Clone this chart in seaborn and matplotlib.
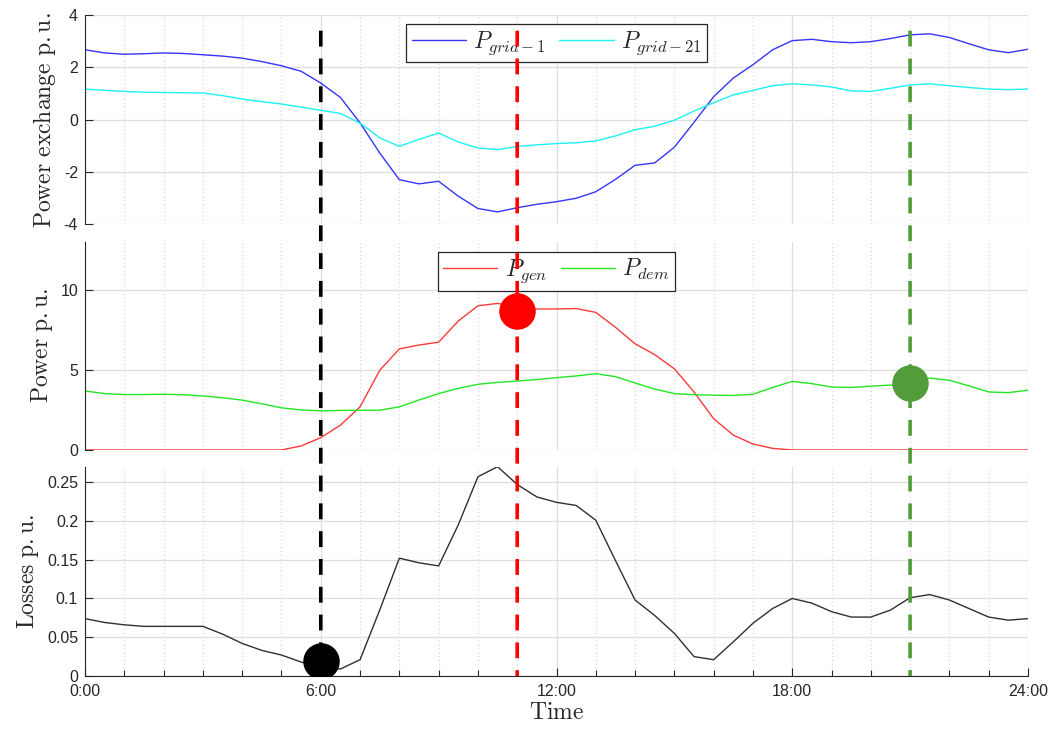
import numpy as np
import matplotlib
matplotlib.use("Agg")
import matplotlib.pyplot as plt
import seaborn as sns
from matplotlib.patches import ConnectionPatch
from matplotlib.ticker import MultipleLocator, FuncFormatter, FixedLocator

# Time axis, every half hour
hours = np.arange(0, 24.5, 0.5)

# Power exchange p.u.
p_grid_1 = [2.67, 2.55, 2.50, 2.52, 2.55, 2.53, 2.48, 2.43, 2.35, 2.22,
            2.06, 1.85, 1.40, 0.85, -0.12, -1.27, -2.29, -2.45, -2.35, -2.92,
            -3.39, -3.52, -3.36, -3.23, -3.13, -3.00, -2.75, -2.28, -1.74, -1.65,
            -1.05, -0.10, 0.88, 1.59, 2.10, 2.67, 3.02, 3.07, 2.98, 2.94,
            2.98, 3.10, 3.24, 3.28, 3.14, 2.90, 2.67, 2.56, 2.69]
p_grid_21 = [1.17, 1.12, 1.08, 1.05, 1.04, 1.03, 1.02, 0.92, 0.79, 0.69,
             0.60, 0.48, 0.36, 0.24, -0.13, -0.69, -1.02, -0.75, -0.51, -0.85,
             -1.08, -1.14, -1.02, -0.96, -0.91, -0.88, -0.81, -0.62, -0.38, -0.25,
             -0.02, 0.33, 0.65, 0.95, 1.12, 1.30, 1.37, 1.33, 1.25, 1.10,
             1.08, 1.20, 1.33, 1.37, 1.30, 1.23, 1.17, 1.15, 1.17]

# Power p.u.
p_gen = [0, 0, 0, 0, 0, 0, 0, 0, 0, 0,
         0, 0.25, 0.77, 1.55, 2.69, 4.97, 6.31, 6.55, 6.73, 8.05,
         9.00, 9.15, 8.90, 8.80, 8.80, 8.83, 8.59, 7.66, 6.63, 5.95,
         5.07, 3.62, 1.95, 0.93, 0.37, 0.10, 0, 0, 0, 0,
         0, 0, 0, 0, 0, 0, 0, 0, 0]
p_dem = [3.68, 3.52, 3.46, 3.46, 3.48, 3.45, 3.37, 3.26, 3.11, 2.88,
         2.63, 2.50, 2.44, 2.47, 2.48, 2.48, 2.69, 3.12, 3.52, 3.85,
         4.10, 4.22, 4.30, 4.40, 4.51, 4.62, 4.76, 4.58, 4.18, 3.80,
         3.52, 3.45, 3.42, 3.40, 3.48, 3.90, 4.28, 4.14, 3.93, 3.90,
         3.98, 4.05, 4.14, 4.49, 4.35, 4.00, 3.62, 3.58, 3.73]

# Losses p.u.
losses = [0.074, 0.069, 0.066, 0.064, 0.064, 0.064, 0.064, 0.054, 0.042, 0.033,
          0.027, 0.018, 0.011, 0.009, 0.021, 0.085, 0.152, 0.146, 0.142, 0.195,
          0.257, 0.270, 0.247, 0.231, 0.224, 0.220, 0.201, 0.149, 0.098, 0.078,
          0.055, 0.025, 0.021, 0.044, 0.068, 0.087, 0.100, 0.094, 0.083, 0.076,
          0.076, 0.085, 0.101, 0.105, 0.098, 0.087, 0.076, 0.072, 0.074]

# Highlighted instants
event_hours = [6, 11, 21]
event_values = [0.019, 8.65, 4.16]      # value of the dot
event_panel = ["bot", "mid", "mid"]     # panel holding the dot
event_line_end = [0.019, 0, 0]          # bottom end of dashed line (losses axis)
event_line_top = 3.4                    # top end of dashed line (exchange axis)
event_colors = ["black", "#ff0000", "#529c3a"]

time_labels = ["0:00", "6:00", "12:00", "18:00", "24:00"]

sns.set_theme(style="whitegrid")
plt.rcParams['font.family'] = ['Liberation Sans', 'DejaVu Sans']
plt.rcParams['mathtext.fontset'] = 'cm'
plt.rcParams['axes.unicode_minus'] = False

fig = plt.figure(figsize=(10.5, 7.3), dpi=100)
ax_top = fig.add_axes([0.081, 0.6925, 0.898, 0.2870])
ax_mid = fig.add_axes([0.081, 0.3836, 0.898, 0.2853])
ax_bot = fig.add_axes([0.081, 0.0740, 0.898, 0.2867])
axes = {"top": ax_top, "mid": ax_mid, "bot": ax_bot}

dark = "#262626"

sns.lineplot(x=hours, y=p_grid_1, ax=ax_top, color="#3535ff", lw=1.0, label=r"$P_{grid-1}$")
sns.lineplot(x=hours, y=p_grid_21, ax=ax_top, color="#1cf2f2", lw=1.0, label=r"$P_{grid-21}$")
sns.lineplot(x=hours, y=p_gen, ax=ax_mid, color="#ff3a3a", lw=1.0, label=r"$P_{gen}$")
sns.lineplot(x=hours, y=p_dem, ax=ax_mid, color="#22e622", lw=1.0, label=r"$P_{dem}$")
sns.lineplot(x=hours, y=losses, ax=ax_bot, color="#303030", lw=1.0)

ax_top.set_ylim(-4, 4)
ax_top.yaxis.set_major_locator(MultipleLocator(2))
ax_mid.set_ylim(0, 13)
ax_mid.yaxis.set_major_locator(FixedLocator([0, 5, 10]))
ax_bot.set_ylim(0, 0.27)
ax_bot.yaxis.set_major_locator(FixedLocator([0, 0.05, 0.1, 0.15, 0.2, 0.25]))

for name, ax in axes.items():
    ax.set_xlim(0, 24)
    ax.xaxis.set_major_locator(MultipleLocator(6))
    ax.xaxis.set_minor_locator(MultipleLocator(1))
    ax.yaxis.set_major_formatter(FuncFormatter(lambda v, p: f"{v:g}"))
    ax.grid(True, which="major", color="#dedede", linewidth=0.9, linestyle="-")
    ax.grid(True, which="minor", axis="x", color="#d2d2d2", linewidth=0.8, linestyle=(0, (1, 2.5)))
    ax.grid(False, which="minor", axis="y")
    ax.set_axisbelow(True)
    for s in ["top", "right", "bottom"]:
        ax.spines[s].set_visible(False)
    ax.spines["left"].set_color(dark)
    ax.spines["left"].set_linewidth(0.8)
    ax.tick_params(axis="y", which="major", direction="in", left=True, length=6,
                   width=0.8, color=dark, labelsize=11.5, labelcolor=dark, pad=5)
    if name != "bot":
        ax.tick_params(axis="x", which="both", bottom=False, labelbottom=False)
    ax.set_facecolor("white")

ax_bot.spines["bottom"].set_visible(True)
ax_bot.spines["bottom"].set_color(dark)
ax_bot.spines["bottom"].set_linewidth(0.8)
ax_bot.set_xticks([0, 6, 12, 18, 24])
ax_bot.set_xticklabels(time_labels)
ax_bot.tick_params(axis="x", which="major", direction="in", bottom=True, length=6,
                   width=0.8, color=dark, labelsize=11.5, labelcolor=dark, pad=6)
ax_bot.tick_params(axis="x", which="minor", direction="in", bottom=True, length=4.5,
                   width=0.8, color=dark)

ax_top.set_ylabel(r"$\mathrm{Power\ exchange\ p.u.}$", fontsize=17, labelpad=4)
ax_mid.set_ylabel(r"$\mathrm{Power\ p.u.}$", fontsize=17, labelpad=4)
ax_bot.set_ylabel(r"$\mathrm{Losses\ p.u.}$", fontsize=17, labelpad=4)
ax_bot.set_xlabel(r"$\mathrm{Time}$", fontsize=17, labelpad=2)

for ax, top in [(ax_top, 0.955), (ax_mid, 0.95)]:
    leg = ax.legend(loc="upper center", bbox_to_anchor=(0.5, top), ncol=2, fontsize=17,
                    frameon=True, fancybox=False, edgecolor=dark, framealpha=1,
                    handlelength=2.3, handletextpad=0.3, columnspacing=0.6,
                    borderpad=0.22, borderaxespad=0)
    leg.get_frame().set_linewidth(0.9)

# dots at the highlighted instants
for h, v, p, c in zip(event_hours, event_values, event_panel, event_colors):
    sns.scatterplot(x=[h], y=[v], ax=axes[p], s=690, color=c, linewidth=0, zorder=5, legend=False)

# dashed lines spanning all panels
for h, yend, c in zip(event_hours, event_line_end, event_colors):
    con = ConnectionPatch(xyA=(h, event_line_top), coordsA="data", axesA=ax_top,
                          xyB=(h, yend), coordsB="data", axesB=ax_bot,
                          color=c, linewidth=2.6, linestyle=(0, (4.4, 3.3)),
                          capstyle="butt", zorder=6)
    fig.add_artist(con)

fig.savefig("out.png", dpi=100)
